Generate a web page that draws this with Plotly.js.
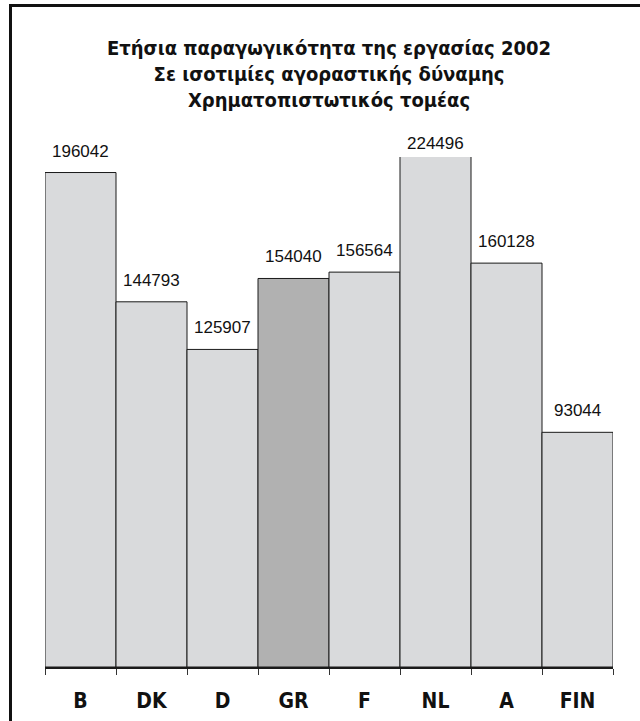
<!DOCTYPE html>
<html>
<head>
<meta charset="utf-8">
<script src="https://cdn.plot.ly/plotly-3.0.1.min.js"></script>
<style>
html,body{margin:0;padding:0;background:#fff;overflow:hidden;}
#wrap{position:relative;width:640px;height:721px;}
#chart{width:640px;height:721px;}
#frame{position:absolute;left:9px;top:4px;width:800px;height:900px;border-top:3px solid #111;border-left:3px solid #111;pointer-events:none;box-sizing:border-box;}
</style>
</head>
<body>
<div id="wrap"><div id="chart"></div><div id="frame"></div></div>
<script>
const countries = ["B", "DK", "D", "GR", "F", "NL", "A", "FIN"];
const productivity = [196042, 144793, 125907, 154040, 156564, 224496, 160128, 93044];
const highlight = "GR";
const yMax = 202200;

const colors = countries.map(c => c === highlight ? "#b1b1b1" : "#d9dadc");
const condensed = '"Liberation Sans Narrow", "Arial Narrow", "DejaVu Sans Condensed", sans-serif';

const trace = {
  type: "bar",
  x: countries,
  y: productivity,
  marker: {color: colors, line: {color: "#1a1a1a", width: 1}},
  hoverinfo: "x+y"
};

const annotations = countries.map((c, i) => {
  const v = productivity[i];
  const clipped = v > yMax;
  return {
    x: c, y: clipped ? yMax : v, xref: "x", yref: "y",
    text: String(v), showarrow: false,
    yanchor: "bottom", yshift: clipped ? 2 : 10,
    font: {family: '"Liberation Sans", Arial, sans-serif', size: 17, color: "#111"}
  };
});

const layout = {
  width: 640, height: 721,
  margin: {l: 45, r: 27, t: 157, b: 54},
  paper_bgcolor: "#fff", plot_bgcolor: "#fff",
  showlegend: false,
  bargap: 0,
  title: {
    text: "Ετήσια παραγωγικότητα της εργασίας 2002<br>Σε ισοτιμίες αγοραστικής δύναμης<br>Χρηματοπιστωτικός τομέας",
    font: {family: condensed, size: 20, color: "#111", weight: "bold"},
    x: 0.5, xref: "paper", xanchor: "center",
    y: 1 - 55/721, yref: "container", yanchor: "top"
  },
  xaxis: {
    type: "category",
    showline: true, linecolor: "#1a1a1a", linewidth: 2,
    ticks: "outside", tickson: "boundaries", ticklen: 6, tickwidth: 1, tickcolor: "#333",
    ticklabelstandoff: 14,
    tickfont: {family: condensed, size: 21, color: "#111", weight: "bold"},
    showgrid: false, zeroline: false, fixedrange: true
  },
  yaxis: {
    range: [0, yMax], visible: false, showgrid: false, zeroline: false, fixedrange: true
  },
  annotations: annotations
};

Plotly.newPlot("chart", [trace], layout, {displayModeBar: false, staticPlot: true});
</script>
</body>
</html>
